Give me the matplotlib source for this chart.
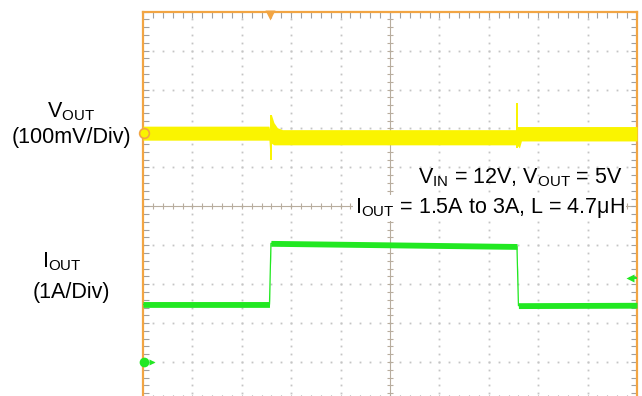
import numpy as np
import matplotlib
matplotlib.use('Agg')
import matplotlib.pyplot as plt

plt.rcParams['font.family'] = ['Liberation Sans', 'DejaVu Sans']
plt.rcParams['mathtext.fontset'] = 'custom'
plt.rcParams['mathtext.rm'] = 'Liberation Sans'
plt.rcParams['mathtext.it'] = 'Liberation Sans:italic'
plt.rcParams['mathtext.bf'] = 'Liberation Sans:bold'

# screen divisions (x: time div, y: vertical div, 0 = bottom of screen)
# VOUT trace (yellow) noise band: upper / lower envelope
vout_x = [0.0, 2.55, 2.575, 2.60, 2.65, 2.72, 2.82, 7.54, 7.555, 7.58, 7.62, 7.66, 10.0]
vout_hi = [7.06, 7.06, 6.90, 7.35, 7.15, 7.02, 6.97, 6.97, 7.65, 7.05, 7.05, 7.05, 7.05]
vout_lo = [6.70, 6.70, 6.20, 6.62, 6.58, 6.58, 6.58, 6.58, 6.58, 6.56, 6.50, 6.68, 6.68]
# thin switching spikes on VOUT: (x, low, high)
spike_x = [2.585, 7.565]
spike_lo = [6.20, 6.50]
spike_hi = [7.35, 7.65]

# IOUT trace (green): centre of the band
iout_x = [0.0, 2.56, 2.59, 7.57, 7.60, 10.0]
iout_y = [2.48, 2.48, 4.05, 3.97, 2.45, 2.46]
iout_band = 0.075

# scope markers
trigger_x = 2.57
ch1_level = 6.88
ch2_ground = 1.0
trig_level = 3.17

orange = '#F2A543'
yellow = '#FAF400'
green = '#22E822'
gridc = '#c4c4c4'

fig = plt.figure(figsize=(6.42, 3.96), dpi=100)
ax = fig.add_axes([143 / 642, 1 - 401 / 396, (637 - 143) / 642, (401 - 11.7) / 396])
ax.set_xlim(0, 10)
ax.set_ylim(0, 10)

# dotted graticule
minor = np.arange(0, 10.01, 0.2)
for k in range(1, 10):
    if k == 5:
        continue
    ax.plot(minor, np.full_like(minor, k), ls='none', marker='s', ms=1.3,
            mfc=gridc, mec='none', zorder=1)
    ax.plot(np.full_like(minor, k), minor, ls='none', marker='s', ms=1.3,
            mfc=gridc, mec='none', zorder=1)

# centre lines with tick marks
ax.axhline(5, color='#b8ad9e', lw=0.8, zorder=1)
ax.axvline(5, color='#b8ad9e', lw=0.8, zorder=1)
ax.plot(minor, np.full_like(minor, 5), ls='none', marker='|', ms=5,
        mew=0.8, color='#b8ad9e', zorder=1)
ax.plot(np.full_like(minor, 5), minor, ls='none', marker='_', ms=5,
        mew=0.8, color='#b8ad9e', zorder=1)

# traces
ax.fill_between(vout_x, vout_lo, vout_hi, color=yellow, lw=0, zorder=3)
ax.vlines(spike_x, spike_lo, spike_hi, color=yellow, lw=1.4, zorder=3)
iy = np.array(iout_y)
ax.fill_between(iout_x, iy - iout_band, iy + iout_band, color=green, lw=0, zorder=3)
ax.plot(iout_x, iout_y, color=green, lw=0.9, zorder=3)

# markers
ax.plot([0.03], [ch1_level], marker='o', ms=7, mfc=yellow, mec=orange,
        mew=1.2, clip_on=False, zorder=5)
ax.plot([0.03], [ch2_ground], marker='o', ms=7, mfc=green, mec='none',
        clip_on=False, zorder=5)
ax.plot([0.18], [ch2_ground], marker='>', ms=5, mfc=green, mec='none',
        clip_on=False, zorder=5)
ax.plot([9.86, 10.0], [trig_level, trig_level], color=green, lw=1.5, zorder=5)
ax.plot([9.86], [trig_level], marker='<', ms=6, mfc=green, mec='none',
        clip_on=False, zorder=5)
ax.plot([trigger_x], [9.92], marker='v', ms=7, mfc=orange, mec='none',
        clip_on=False, zorder=5)

# border
for s in ax.spines.values():
    s.set_color(orange)
    s.set_linewidth(1.6)
ax.set_xticks(np.arange(0, 11, 1))
ax.set_yticks(np.arange(0, 11, 1))
ax.set_xticks(minor, minor=True)
ax.set_yticks(minor, minor=True)
ax.tick_params(which='both', direction='in', length=4, width=0.8,
               color='#a0a0a0', top=True, right=True,
               labelbottom=False, labelleft=False)

# labels
fs = 15.5
fig.text(71 / 642, 1 - 117 / 396, r'V$_{\mathrm{OUT}}$', ha='center',
         va='baseline', fontsize=fs)
fig.text(71 / 642, 1 - 143 / 396, '(100mV/Div)', ha='center',
         va='baseline', fontsize=fs)
fig.text(62 / 642, 1 - 267 / 396, r'I$_{\mathrm{OUT}}$', ha='center',
         va='baseline', fontsize=fs)
fig.text(71 / 642, 1 - 298 / 396, '(1A/Div)', ha='center',
         va='baseline', fontsize=fs)

ax.text(9.70, 5.60, r'V$_{\mathrm{IN}}$ = 12V, V$_{\mathrm{OUT}}$ = 5V',
        ha='right', va='baseline', fontsize=fs, zorder=6)
ax.text(9.75, 4.83, r'I$_{\mathrm{OUT}}$ = 1.5A to 3A, L = 4.7μH',
        ha='right', va='baseline', fontsize=fs, zorder=6,
        bbox=dict(facecolor='white', edgecolor='none', pad=1))

fig.savefig('out.png', dpi=100)
